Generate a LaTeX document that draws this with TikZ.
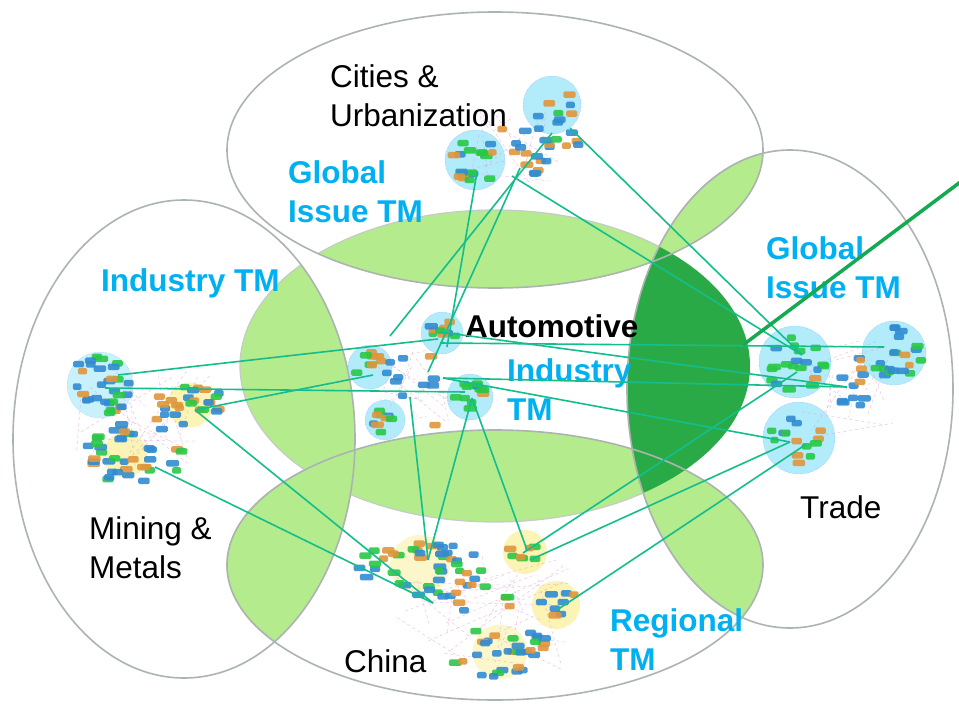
\documentclass[tikz,border=0pt]{standalone}
\usepackage{fontspec}
\setmainfont{Liberation Sans}
\usetikzlibrary{positioning}

\definecolor{ringgray}{RGB}{172,180,176}
\definecolor{lensgreen}{RGB}{180,235,140}
\definecolor{deepgreen}{RGB}{42,170,70}
\definecolor{linkteal}{RGB}{20,190,140}
\definecolor{arrowgreen}{RGB}{20,170,80}
\definecolor{tmblue}{RGB}{0,176,240}
\definecolor{blobcyan}{RGB}{165,232,250}
\definecolor{glowyellow}{RGB}{250,240,150}
\definecolor{boxblue}{RGB}{50,140,210}
\definecolor{boxgreen}{RGB}{40,200,70}
\definecolor{boxorange}{RGB}{225,150,60}
\definecolor{edgepink}{RGB}{220,150,200}

\pgfmathdeclarerandomlist{mixcols}{{boxblue}{boxblue}{boxgreen}{boxorange}}
\pgfmathdeclarerandomlist{greencols}{{boxgreen}{boxgreen}{boxgreen}{boxblue}{boxorange}}
\pgfmathdeclarerandomlist{bluecols}{{boxblue}{boxblue}{boxblue}{boxorange}}
\pgfmathdeclarerandomlist{orangecols}{{boxorange}{boxorange}{boxblue}{boxgreen}}

\tikzset{%
  ring/.style={draw=ringgray, line width=1.6},
  lens/.style={fill=lensgreen, draw=ringgray!70, line width=1.2},
  blob/.style={circle, fill=blobcyan, draw=blobcyan!70!blue, densely dotted, inner sep=0, opacity=.85},
  glow/.style={circle, fill=glowyellow, inner sep=0, opacity=.7},
  netbox/.style={rectangle, rounded corners=1.5, minimum width={8+6*rnd}, minimum height=6.5, inner sep=0, opacity=.9},
  link/.style={draw=linkteal, line width=1.6},
  bigarrow/.style={draw=arrowgreen, line width=3.5},
  plain label/.style={anchor=base west, align=left, inner sep=0, font=\fontsize{31.5}{38.5}\selectfont},
  tm label/.style={plain label, font=\fontsize{31.5}{38.5}\selectfont\bfseries, text=tmblue},
}

% rings of the picture
\newcommand{\topring}{(495,150) ellipse [x radius=268, y radius=138]}
\newcommand{\leftring}{(184,439) ellipse [x radius=171, y radius=239]}
\newcommand{\rightring}{(790,389) ellipse [x radius=163, y radius=239]}
\newcommand{\chinaring}{(495,565) ellipse [x radius=268, y radius=135]}
\newcommand{\midring}{(495,366) ellipse [x radius=255, y radius=156]}

% name, cx, cy, rx, ry, count, colour list
\newcommand{\boxcloud}[7]{%
  \foreach \k in {1,...,#6}{
    \pgfmathsetmacro{\ang}{360*rnd}
    \pgfmathsetmacro{\rad}{sqrt(rnd)}
    \pgfmathrandomitem{\col}{#7}
    \node[netbox, fill=\col] (#1-\k) at ({#2+#4*\rad*cos(\ang)},{#3+#5*\rad*sin(\ang)}) {};
  }}
% cx, cy, rx, ry, count
\newcommand{\faintweb}[5]{%
  \foreach \k in {1,...,#5}{
    \draw[edgepink, dashed, line width=.5, opacity=.55]
      ({#1+#3*(2*rnd-1)},{#2+#4*(2*rnd-1)}) -- ({#1+#3*(2*rnd-1)},{#2+#4*(2*rnd-1)});
  }}

\begin{document}
\begin{tikzpicture}[x=1pt, y=-1pt]
    \pgfmathsetseed{17}
    \useasboundingbox (0,0) rectangle (959,704);
    \fill[white] (0,0) rectangle (959,704);

    % green overlaps
    \begin{scope}\clip \leftring; \filldraw[lens] \midring; \end{scope}
    \begin{scope}\clip \topring; \filldraw[lens] \midring; \end{scope}
    \begin{scope}\clip \chinaring; \filldraw[lens] \midring; \end{scope}
    \begin{scope}\clip \topring; \filldraw[lens] \rightring; \end{scope}
    \begin{scope}\clip \chinaring; \filldraw[lens] \rightring; \end{scope}
    \begin{scope}\clip \leftring; \filldraw[lens] \chinaring; \end{scope}
    \begin{scope}\clip \rightring; \fill[deepgreen] \midring; \end{scope}

    \draw[ring] \topring;
    \draw[ring] \leftring;
    \draw[ring] \rightring;
    \draw[ring] \chinaring;

    % Cities & Urbanization
    \node[blob, minimum size=58] (cityA) at (552,105) {};
    \node[blob, minimum size=60] (cityB) at (475,160) {};
    \faintweb{515}{145}{45}{40}{14}
    \boxcloud{cityA}{552}{105}{22}{20}{8}{mixcols}
    \boxcloud{cityB}{475}{160}{24}{24}{16}{greencols}
    \boxcloud{cityM}{520}{150}{32}{28}{18}{bluecols}
    \boxcloud{cityO}{566}{140}{14}{10}{5}{orangecols}

    % Mining & Metals
    \node[glow, minimum size=45] (mineGlowA) at (190,405) {};
    \node[glow, minimum size=45] (mineGlowB) at (125,455) {};
    \node[blob, minimum size=66, opacity=.6] (mineA) at (100,385) {};
    \faintweb{140}{420}{70}{55}{20}
    \boxcloud{mineA}{100}{385}{32}{30}{30}{mixcols}
    \boxcloud{mineB}{190}{405}{35}{22}{22}{orangecols}
    \boxcloud{mineC}{130}{458}{55}{28}{34}{mixcols}
    \boxcloud{mineD}{150}{425}{40}{15}{8}{bluecols}

    % Automotive
    \node[blob, minimum size=42] (autoTop) at (442,333) {};
    \node[blob, minimum size=44] (autoLeft) at (370,367) {};
    \node[blob, minimum size=40] (autoLow) at (385,420) {};
    \node[blob, minimum size=46] (autoRight) at (470,397) {};
    \faintweb{415}{385}{40}{40}{14}
    \boxcloud{autoTop}{442}{333}{15}{13}{9}{mixcols}
    \boxcloud{autoLeft}{370}{367}{15}{15}{8}{orangecols}
    \boxcloud{autoLow}{385}{420}{13}{13}{9}{greencols}
    \boxcloud{autoRight}{470}{397}{16}{15}{12}{greencols}
    \boxcloud{autoMid}{412}{370}{30}{28}{10}{bluecols}
    \node[netbox, fill=boxorange] (autoTail) at (435,425) {};

    % Trade
    \node[blob, minimum size=72] (tradeA) at (795,362) {};
    \node[blob, minimum size=64] (tradeB) at (894,353) {};
    \node[blob, minimum size=72] (tradeC) at (799,438) {};
    \faintweb{845}{390}{50}{50}{16}
    \boxcloud{tradeA}{795}{362}{30}{30}{20}{greencols}
    \boxcloud{tradeB}{894}{353}{28}{28}{20}{mixcols}
    \boxcloud{tradeC}{799}{438}{30}{30}{14}{mixcols}
    \boxcloud{tradeM}{850}{385}{25}{30}{12}{bluecols}

    % China
    \node[glow, minimum size=44] (chinaGlowA) at (525,552) {};
    \node[glow, minimum size=48] (chinaGlowB) at (556,605) {};
    \node[glow, minimum size=60, opacity=.5] (chinaGlowC) at (420,565) {};
    \node[glow, minimum size=55, opacity=.5] (chinaGlowD) at (500,652) {};
    \faintweb{480}{610}{90}{60}{28}
    \boxcloud{chinaA}{420}{568}{62}{28}{44}{mixcols}
    \boxcloud{chinaB}{527}{553}{18}{14}{7}{greencols}
    \boxcloud{chinaC}{560}{603}{25}{14}{8}{mixcols}
    \boxcloud{chinaD}{500}{652}{55}{25}{32}{mixcols}
    \boxcloud{chinaE}{475}{598}{45}{20}{10}{orangecols}

    % labels (base = last line)
    \node[plain label] (citiesLbl) at (330,126) {Cities \&\\Urbanization};
    \node[tm label] (globalLeft) at (288,222) {Global\\Issue TM};
    \node[tm label] (industryLeft) at (101,291) {Industry TM};
    \node[tm label] (globalRight) at (766,298) {Global\\Issue TM};
    \node[plain label, font=\fontsize{31.5}{38.5}\selectfont\bfseries] (autoLbl) at (465,337) {Automotive};
    \node[tm label] (industryMid) at (507,420) {Industry\\TM};
    \node[plain label] (tradeLbl) at (800,518) {Trade};
    \node[plain label] (miningLbl) at (89,578) {Mining \&\\Metals};
    \node[plain label] (chinaLbl) at (344,672) {China};
    \node[tm label] (regionalLbl) at (610,670) {Regional\\TM};

    % link ends
    \coordinate (tA) at (570,128);
    \coordinate (tB) at (552,133);
    \coordinate (tC) at (520,168);
    \coordinate (tD) at (477,172);
    \coordinate (tE) at (512,176);
    \coordinate (aTopL) at (438,339);
    \coordinate (aTopH) at (440,343);
    \coordinate (aTopS) at (440,332);
    \coordinate (aTopD) at (447,347);
    \coordinate (aNode) at (390,336);
    \coordinate (aIn) at (428,372);
    \coordinate (aMid) at (443,378);
    \coordinate (aLeft) at (373,375);
    \coordinate (aRight) at (465,392);
    \coordinate (aRightB) at (472,398);
    \coordinate (aBr) at (410,397);
    \coordinate (rTop) at (802,355);
    \coordinate (rH) at (884,347);
    \coordinate (rMid) at (847,387);
    \coordinate (rOne) at (797,372);
    \coordinate (rLow) at (790,442);
    \coordinate (rLowB) at (805,445);
    \coordinate (mA) at (118,375);
    \coordinate (mB) at (105,388);
    \coordinate (mC) at (195,410);
    \coordinate (mD) at (155,467);
    \coordinate (cA) at (433,603);
    \coordinate (cB) at (428,560);
    \coordinate (cC) at (527,550);
    \coordinate (cCb) at (523,553);
    \coordinate (cD) at (530,560);
    \coordinate (cE) at (557,610);
    \coordinate (kink) at (743,345);
    \coordinate (offedge) at (975,171);

    \foreach \a/\b in {tA/rTop, tE/rTop, tB/aNode, tC/aIn, tD/aTopD,
                       mA/aTopL, mB/aRight, mC/aLeft, mC/cA, mD/cA,
                       aTopH/rH, aTopS/rMid, aMid/rMid, aMid/rLow,
                       aBr/cB, aRightB/cB, aRightB/cC,
                       rOne/cCb, rLow/cD, rLowB/cE}
      \draw[link] (\a) -- (\b);

    \draw[bigarrow] (kink) -- (offedge);

\end{tikzpicture}
\end{document}
